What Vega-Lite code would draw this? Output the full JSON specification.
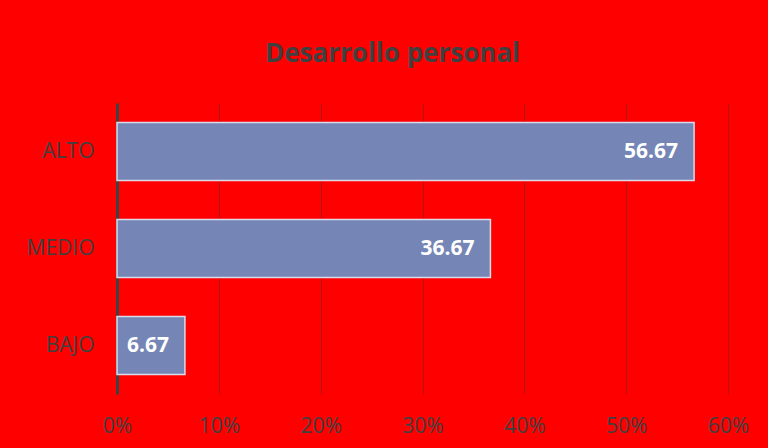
{
  "$schema": "https://vega.github.io/schema/vega-lite/v6.json",
  "autosize": "none",
  "width": 611,
  "height": 291,
  "padding": {"left": 117, "top": 103, "right": 40, "bottom": 54},
  "background": "#ff0000",
  "title": {
    "text": "Desarrollo personal",
    "font": "Open Sans",
    "fontSize": 26,
    "fontWeight": "bold",
    "color": "#404040",
    "anchor": "middle",
    "dx": -30,
    "offset": 36
  },
  "config": {"view": {"stroke": null}},
  "data": {
    "values": [
      {"nivel": "ALTO", "valor": 56.67},
      {"nivel": "MEDIO", "valor": 36.67},
      {"nivel": "BAJO", "valor": 6.67}
    ]
  },
  "encoding": {
    "y": {
      "field": "nivel",
      "type": "nominal",
      "sort": ["ALTO", "MEDIO", "BAJO"],
      "scale": {"paddingInner": 0.4, "paddingOuter": 0.2},
      "axis": {
        "title": null,
        "ticks": false,
        "domainColor": "#404040",
        "domainWidth": 3,
        "labelFont": "Open Sans",
        "labelFontSize": 21,
        "labelColor": "#404040",
        "labelPadding": 23
      }
    },
    "x": {
      "field": "valor",
      "type": "quantitative",
      "scale": {"domain": [0, 60]},
      "axis": {
        "title": null,
        "values": [0, 10, 20, 30, 40, 50, 60],
        "labelExpr": "datum.value + '%'",
        "labelFlush": false,
        "ticks": false,
        "domain": false,
        "grid": true,
        "gridColor": "#b41414",
        "gridWidth": 1,
        "labelFont": "Open Sans",
        "labelFontSize": 21,
        "labelColor": "#404040",
        "labelPadding": 21
      }
    }
  },
  "layer": [
    {
      "mark": {"type": "bar", "color": "#7585b5", "stroke": "#d9dcea", "strokeWidth": 1.5}
    },
    {
      "mark": {"type": "text", "align": "right", "dx": -16, "color": "white", "font": "Open Sans", "fontWeight": "bold", "fontSize": 21},
      "encoding": {"text": {"field": "valor", "type": "quantitative", "format": ".2f"}}
    }
  ]
}
